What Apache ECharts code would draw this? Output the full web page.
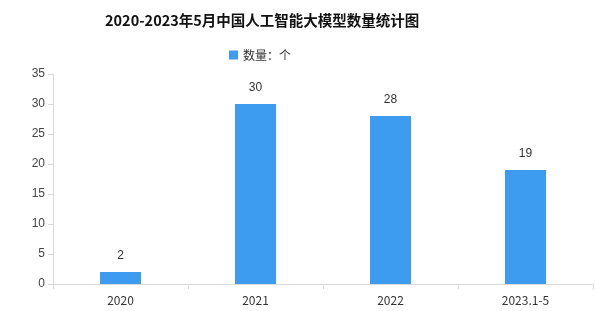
<!DOCTYPE html>
<html><head><meta charset="utf-8">
<script src="https://cdn.jsdelivr.net/npm/echarts@6/dist/echarts.min.js"></script>
<style>html,body{margin:0;padding:0;background:#fff}#c{width:595px;height:311px}</style>
</head><body><div id="c"></div>
<script>
const categories = ['2020', '2021', '2022', '2023.1-5'];
const values = [2, 30, 28, 19];
const seriesName = '数量：个';
const titleText = '2020-2023年5月中国人工智能大模型数量统计图';

const chart = echarts.init(document.getElementById('c'));
chart.setOption({
  animation: false,
  title: { text: titleText, left: 100, top: 8,
    textStyle: { fontSize: 14.5, fontWeight: 'bold', color: '#111', fontFamily: 'Noto Sans CJK SC' } },
  legend: { top: 44, left: 224, itemWidth: 9, itemHeight: 9, itemGap: 5,
    icon: 'rect',
    textStyle: { fontSize: 12, color: '#333', fontFamily: 'Noto Sans CJK SC' } },
  grid: { left: 53, right: 2, top: 74, bottom: 27, containLabel: false },
  xAxis: { type: 'category', data: categories,
    axisLine: { lineStyle: { color: '#d9d9d9' } },
    axisTick: { show: true, lineStyle: { color: '#d9d9d9' } },
    axisLabel: { color: '#333', fontSize: 12, margin: 10, fontFamily: 'Noto Sans CJK SC' } },
  yAxis: { type: 'value', min: 0, max: 35, interval: 5,
    axisLine: { show: true, lineStyle: { color: '#d9d9d9' } },
    axisTick: { show: true, lineStyle: { color: '#d9d9d9' } },
    splitLine: { show: false },
    axisLabel: { color: '#444', fontSize: 12, margin: 8 } },
  series: [{ name: seriesName, type: 'bar', data: values, barWidth: 41,
    itemStyle: { color: '#3d9cf0' },
    label: { show: true, position: 'top', distance: 10, color: '#333', fontSize: 12 } }]
});
</script></body></html>
